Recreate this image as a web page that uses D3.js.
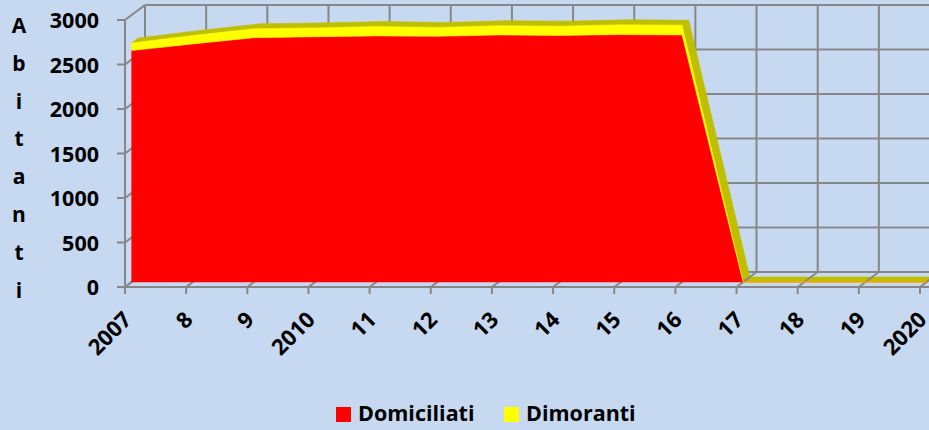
<!DOCTYPE html>
<html>
<head>
<meta charset="utf-8">
<script src="https://cdn.jsdelivr.net/npm/d3@7"></script>
<style>
  html, body { margin: 0; padding: 0; background: #c6d9f0; }
  svg { display: block; }
  text { font-family: "Open Sans", Lato, sans-serif; font-weight: 700; fill: #000; }
</style>
</head>
<body>
<svg id="chart" width="929" height="430"></svg>
<script>
// ---- data ----
const categories = ["2007","8","9","2010","11","12","13","14","15","16","17","18","19","2020"];
const domiciliati = [2600, 2675, 2745, 2755, 2765, 2760, 2775, 2770, 2780, 2775, 0, 0, 0, 0];
const dimoranti   = [85, 95, 100, 100, 105, 100, 105, 105, 110, 110, 0, 0, 0, 0];
const yTicks = [0, 500, 1000, 1500, 2000, 2500, 3000];
const seriesNames = ["Domiciliati", "Dimoranti"];
const seriesColors = ["#ff0000", "#ffff00"];
const topColors = ["#c00000", "#bfbf00"];
const yTitle = "Abitanti";

// ---- layout ----
const svg = d3.select("#chart");
const W = 929, H = 430;
svg.append("rect").attr("width", W).attr("height", H).attr("fill", "#c6d9f0");

const x = d3.scalePoint().domain(categories).range([125, 920]);
const y = d3.scaleLinear().domain([0, 3000]).range([287, 20]);
const DX = 20, DY = -15;           // full depth offset (back wall)
const f1 = 1/3, f2 = 2/3;           // series front/back depth fractions
const gray = "#878787";

const g = svg.append("g");
const line = (x1, y1, x2, y2, w = 2) =>
  g.append("line").attr("x1", x1).attr("y1", y1).attr("x2", x2).attr("y2", y2)
   .attr("stroke", gray).attr("stroke-width", w);

const x0 = x(categories[0]);
// back wall horizontal gridlines
yTicks.forEach(v => line(x0 + DX, y(v) + DY, W + 20, y(v) + DY));
// back wall vertical gridlines
categories.forEach(c => line(x(c) + DX, y(3000) + DY, x(c) + DX, y(0) + DY));
// side wall gridlines (diagonals)
yTicks.forEach(v => line(x0, y(v), x0 + DX, y(v) + DY));

// ---- stacked 3D area ----
const tops = [domiciliati, domiciliati.map((d, i) => d + dimoranti[i])];
const bottoms = [domiciliati.map(() => 0), domiciliati];
const pt = (i, v, f) => [x(categories[i]) + DX * f, y(v) + DY * f];

// top surface of the upper series
for (let i = 0; i < categories.length - 1; i++) {
  const poly = [pt(i, tops[1][i], f1), pt(i + 1, tops[1][i + 1], f1),
                pt(i + 1, tops[1][i + 1], f2), pt(i, tops[1][i], f2)];
  g.append("polygon").attr("points", poly.map(p => p.join(",")).join(" "))
    .attr("fill", topColors[1]).attr("stroke", topColors[1]).attr("stroke-width", 0.6);
}

// floor gridlines (diagonals per category)
categories.forEach(c => line(x(c), y(0), x(c) + DX, y(0) + DY));

// front faces
const area = d3.area()
  .x((d, i) => x(categories[i]) + DX * f1)
  .y0(d => y(d[0]) + DY * f1)
  .y1(d => y(d[1]) + DY * f1);
[0, 1].forEach(s => {
  const data = tops[s].map((t, i) => [bottoms[s][i], t]);
  g.append("path").attr("d", area(data)).attr("fill", seriesColors[s])
    .attr("stroke", seriesColors[s]).attr("stroke-width", 0.5);
});

// front axes
line(x0, y(3000), x0, y(0));                    // y axis
line(117, y(0), W + 10, y(0));                  // x axis
yTicks.forEach(v => line(117, y(v), x0, y(v)));
categories.forEach(c => line(x(c), y(0), x(c), y(0) + 7));

// y tick labels
svg.append("g").selectAll("text").data(yTicks).join("text")
  .attr("x", 99).attr("y", d => y(d) + 8)
  .attr("text-anchor", "end").style("font-size", "21.5px")
  .text(d => d);

// y title (stacked letters)
svg.append("g").selectAll("text").data(yTitle.split("")).join("text")
  .attr("x", 19).attr("y", (d, i) => 33 + i * 37.8)
  .attr("text-anchor", "middle").style("font-size", "21px")
  .text(d => d);

// x tick labels
svg.append("g").selectAll("text").data(categories).join("text")
  .attr("transform", d => `translate(${x(d) + 8},${321}) rotate(-45)`)
  .attr("text-anchor", "end").style("font-size", "22px")
  .text(d => d);

// legend
const leg = svg.append("g");
const legX = [336, 504];
seriesNames.forEach((n, i) => {
  leg.append("rect").attr("x", legX[i]).attr("y", 407).attr("width", 15).attr("height", 15)
    .attr("fill", seriesColors[i]);
  leg.append("text").attr("x", legX[i] + 22).attr("y", 421).style("font-size", "21.5px").text(n);
});
</script>
</body>
</html>
